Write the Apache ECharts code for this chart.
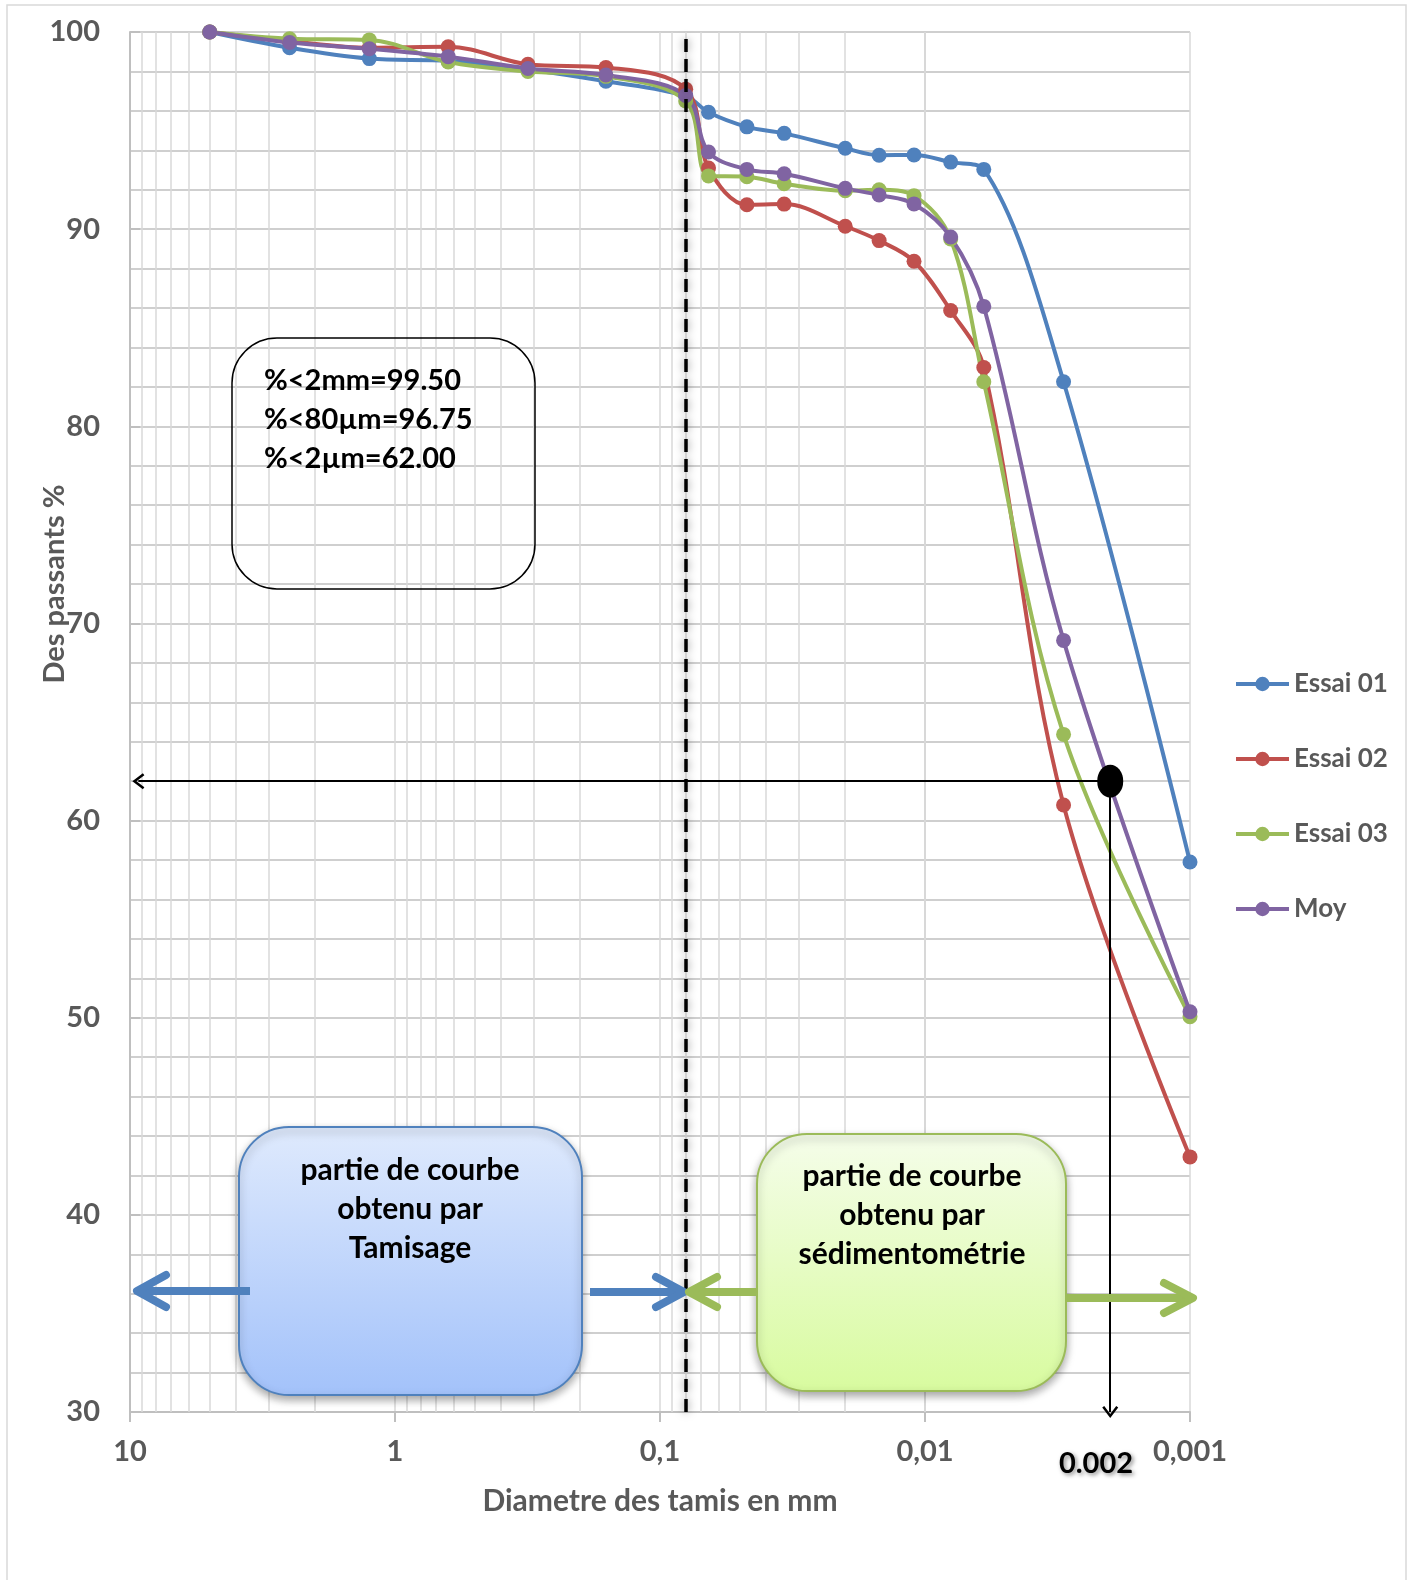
<!DOCTYPE html>
<html>
<head>
<meta charset="utf-8">
<script src="https://cdn.jsdelivr.net/npm/echarts@6/dist/echarts.min.js"></script>
<style>
  html, body { margin: 0; padding: 0; background: #fff; }
  #chart { width: 1408px; height: 1580px; }
</style>
</head>
<body>
<div id="chart"></div>
<script>
// diamètres (mm) : tamisage puis sédimentométrie
const diametres = [5, 2.5, 1.25, 0.63, 0.315, 0.16, 0.08, 0.0656, 0.047, 0.034, 0.02, 0.0149, 0.011, 0.008, 0.006, 0.003, 0.001];

const essai01 = [100, 99.2, 98.65, 98.53, 98.1, 97.5, 96.75, 95.93, 95.19, 94.86, 94.1, 93.75, 93.76, 93.4, 93.03, 82.26, 57.9];
const essai02 = [100, 99.54, 99.2, 99.25, 98.36, 98.2, 97.1, 93.1, 91.24, 91.27, 90.15, 89.42, 88.37, 85.87, 82.98, 60.79, 42.94];
const essai03 = [100, 99.66, 99.6, 98.48, 98.0, 97.75, 96.5, 92.7, 92.66, 92.3, 91.95, 92.0, 91.7, 89.5, 82.26, 64.37, 50.05];
const moy = [100, 99.47, 99.15, 98.75, 98.15, 97.82, 96.78, 93.91, 93.03, 92.81, 92.07, 91.73, 91.28, 89.6, 86.08, 69.14, 50.3];

const seriesNames = ['Essai 01', 'Essai 02', 'Essai 03', 'Moy'];
const seriesColors = ['#4f81bd', '#c0504d', '#9bbb59', '#8064a2'];

const infoLines = ['%<2mm=99.50', '%<80µm=96.75', '%<2µm=62.00'];
const tamisageLines = ['partie de courbe', 'obtenu par', 'Tamisage'];
const sedimLines = ['partie de courbe', 'obtenu par', 'sédimentométrie'];

const limiteTamis = 0.08;
const argile = [0.002, 62];

const FONT = 'Lato, "Open Sans", sans-serif';
const chevron = 'path://M10,0 L20,14 L17.5,16 L10,5.5 L2.5,16 L0,14 Z';

// lignes de grille secondaires 2..9 de chaque décade
const minorValues = [];
[1, 0.1, 0.01, 0.001].forEach((d) => {
  for (let m = 2; m <= 9; m++) minorValues.push(+(m * d).toPrecision(3));
});

const chart = echarts.init(document.getElementById('chart'));

const toPairs = (vals) => diametres.map((d, i) => [d, vals[i]]);

const lineSeries = [essai01, essai02, essai03, moy].map((vals, i) => ({
  name: seriesNames[i],
  type: 'line',
  data: toPairs(vals),
  smooth: 0.35,
  symbol: 'circle',
  symbolSize: 15,
  lineStyle: { width: 4, color: seriesColors[i] },
  itemStyle: { color: seriesColors[i] },
  emphasis: { disabled: true },
  z: 3,
}));

const option = {
  animation: false,
  grid: { left: 130, right: 218, top: 32, bottom: 168, outerBoundsMode: 'none' },
  legend: {
    data: seriesNames,
    orient: 'vertical',
    left: 1229,
    top: 665,
    itemWidth: 53,
    itemHeight: 18,
    itemGap: 47,
    lineStyle: { width: 4 },
    textStyle: { fontFamily: FONT, fontWeight: 'bold', fontSize: 26, color: '#595959', lineHeight: 28 },
  },
  xAxis: {
    type: 'log',
    logBase: 10,
    min: 0.001,
    max: 10,
    inverse: true,
    name: 'Diametre des tamis en mm',
    nameLocation: 'middle',
    nameGap: 74,
    nameTextStyle: { fontFamily: FONT, fontWeight: 'bold', fontSize: 30, color: '#595959' },
    axisLine: { onZero: false, lineStyle: { color: '#bfbfbf', width: 2 } },
    axisTick: { show: true, length: 10, lineStyle: { color: '#bfbfbf', width: 2 } },
    axisLabel: {
      margin: 25,
      fontFamily: FONT,
      fontWeight: 'bold',
      fontSize: 29,
      color: '#595959',
      formatter: (v) => String(Number(v.toPrecision(6))).replace('.', ','),
    },
    splitLine: { show: true, lineStyle: { color: '#d9d9d9', width: 1.5 } },
  },
  yAxis: {
    type: 'value',
    min: 30,
    max: 100,
    interval: 10,
    axisLine: { show: true, onZero: false, lineStyle: { color: '#bfbfbf', width: 2 } },
    axisTick: { show: true, inside: true, length: 10, lineStyle: { color: '#bfbfbf', width: 2 } },
    minorTick: { show: false, splitNumber: 5 },
    minorSplitLine: { show: true, lineStyle: { color: '#cfcfcf', width: 2 } },
    splitLine: { show: true, lineStyle: { color: '#cfcfcf', width: 2 } },
    axisLabel: { margin: 30, fontFamily: FONT, fontWeight: 'bold', fontSize: 29, color: '#595959' },
  },
  series: [
    {
      name: 'grille',
      type: 'line',
      data: [],
      silent: true,
      markLine: {
        silent: true,
        z: 1,
        symbol: 'none',
        label: { show: false },
        lineStyle: { color: '#d9d9d9', width: 1.5, type: 'solid' },
        data: minorValues.map((v) => ({ xAxis: v })),
      },
    },
    ...lineSeries,
    {
      name: 'annotations',
      type: 'line',
      data: [],
      clip: false,
      silent: true,
      markLine: {
        silent: true,
        z: 6,
        symbol: 'none',
        label: { show: false },
        emphasis: { disabled: true },
        data: [
          {
            xAxis: limiteTamis,
            lineStyle: {
              color: '#000', width: 3.5, type: [13, 7],
              shadowBlur: 8, shadowColor: 'rgba(0,0,0,0.5)',
            },
          },
          [
            { coord: argile, symbol: 'none', lineStyle: { color: '#000', width: 2, type: 'solid' } },
            { coord: [argile[0], 30], symbol: chevron, symbolSize: [16, 12] },
          ],
          [
            { coord: argile, symbol: 'none', lineStyle: { color: '#000', width: 2, type: 'solid' } },
            { coord: [9.3, argile[1]], symbol: chevron, symbolSize: [16, 12] },
          ],
        ],
      },
      markPoint: {
        silent: true,
        symbol: 'circle',
        symbolSize: [26, 33],
        itemStyle: { color: '#000' },
        label: { show: false },
        data: [{ coord: argile }],
      },
    },
  ],
  graphic: [
    {
      type: 'rect', silent: true, z: -1,
      shape: { x: 7, y: 5, width: 1399, height: 1600 },
      style: { fill: 'none', stroke: '#d9d9d9', lineWidth: 1.5 },
    },
    {
      type: 'text', silent: true, z: 10, x: 55, y: 584, rotation: Math.PI / 2,
      style: {
        text: 'Des passants %', fontFamily: FONT, fontWeight: 'bold', fontSize: 29,
        fill: '#595959', textAlign: 'center', textVerticalAlign: 'middle',
      },
    },
    {
      type: 'rect', silent: true, z: 10,
      shape: { x: 232, y: 338, width: 303, height: 251, r: 45 },
      style: { fill: 'none', stroke: '#000', lineWidth: 1.5 },
    },
    {
      type: 'text', silent: true, z: 10, x: 264, y: 361,
      style: {
        text: infoLines.join('\n'), fontFamily: FONT, fontWeight: 'bold', fontSize: 29,
        lineHeight: 39, fill: '#000', textAlign: 'left', textVerticalAlign: 'top',
      },
    },
    {
      type: 'rect', silent: true, z: 10,
      shape: { x: 239, y: 1127, width: 343, height: 268, r: 50 },
      style: {
        fill: new echarts.graphic.LinearGradient(0, 0, 0, 1, [
          { offset: 0, color: '#dfeafd' },
          { offset: 1, color: '#a3c2fa' },
        ]),
        stroke: '#4f81bd', lineWidth: 2,
        shadowBlur: 8, shadowOffsetY: 4, shadowColor: 'rgba(0,0,0,0.35)',
      },
    },
    {
      type: 'text', silent: true, z: 11, x: 410, y: 1151,
      style: {
        text: tamisageLines.join('\n'), fontFamily: FONT, fontWeight: 'bold', fontSize: 30,
        lineHeight: 39, fill: '#000', textAlign: 'center', textVerticalAlign: 'top',
      },
    },
    {
      type: 'rect', silent: true, z: 10,
      shape: { x: 757, y: 1134, width: 309, height: 257, r: 50 },
      style: {
        fill: new echarts.graphic.LinearGradient(0, 0, 0, 1, [
          { offset: 0, color: '#f5fdea' },
          { offset: 1, color: '#d8fb9f' },
        ]),
        stroke: '#9bbb59', lineWidth: 2,
        shadowBlur: 8, shadowOffsetY: 4, shadowColor: 'rgba(0,0,0,0.35)',
      },
    },
    {
      type: 'text', silent: true, z: 11, x: 912, y: 1157,
      style: {
        text: sedimLines.join('\n'), fontFamily: FONT, fontWeight: 'bold', fontSize: 30,
        lineHeight: 39, fill: '#000', textAlign: 'center', textVerticalAlign: 'top',
      },
    },
    // flèches des deux parties
    { type: 'polyline', silent: true, z: 12, shape: { points: [[250, 1291], [140, 1291]] }, style: { stroke: '#4f81bd', lineWidth: 8, fill: 'none' } },
    { type: 'polyline', silent: true, z: 12, shape: { points: [[166, 1275], [137, 1291], [166, 1307]] }, style: { stroke: '#4f81bd', lineWidth: 8, fill: 'none', lineCap: 'round', lineJoin: 'round' } },
    { type: 'polyline', silent: true, z: 12, shape: { points: [[590, 1292], [680, 1292]] }, style: { stroke: '#4f81bd', lineWidth: 8, fill: 'none' } },
    { type: 'polyline', silent: true, z: 12, shape: { points: [[656, 1277], [684, 1292], [656, 1307]] }, style: { stroke: '#4f81bd', lineWidth: 8, fill: 'none', lineCap: 'round', lineJoin: 'round' } },
    { type: 'polyline', silent: true, z: 12, shape: { points: [[757, 1292], [693, 1292]] }, style: { stroke: '#9bbb59', lineWidth: 8, fill: 'none' } },
    { type: 'polyline', silent: true, z: 12, shape: { points: [[717, 1277], [689, 1292], [717, 1307]] }, style: { stroke: '#9bbb59', lineWidth: 8, fill: 'none', lineCap: 'round', lineJoin: 'round' } },
    { type: 'polyline', silent: true, z: 12, shape: { points: [[1066, 1298], [1190, 1298]] }, style: { stroke: '#9bbb59', lineWidth: 8, fill: 'none' } },
    { type: 'polyline', silent: true, z: 12, shape: { points: [[1164, 1283], [1193, 1298], [1164, 1313]] }, style: { stroke: '#9bbb59', lineWidth: 8, fill: 'none', lineCap: 'round', lineJoin: 'round' } },
    {
      type: 'text', silent: true, z: 12, x: 1096, y: 1464,
      style: {
        text: '0.002', fontFamily: FONT, fontWeight: 'bold', fontSize: 29, fill: '#000',
        textAlign: 'center', textVerticalAlign: 'middle',
        textShadowBlur: 4, textShadowOffsetX: 2, textShadowOffsetY: 2, textShadowColor: 'rgba(0,0,0,0.45)',
      },
    },
  ],
};

chart.setOption(option);
</script>
</body>
</html>
